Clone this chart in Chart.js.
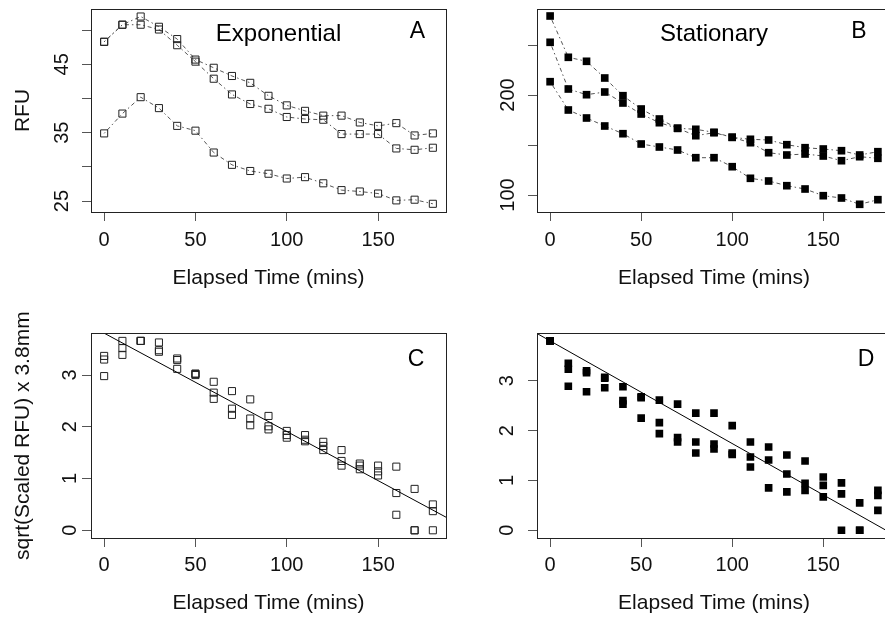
<!DOCTYPE html>
<html>
<head>
<meta charset="utf-8">
<script src="https://cdn.jsdelivr.net/npm/chart.js@4.4.1/dist/chart.umd.min.js"></script>
<style>
  html, body { margin:0; padding:0; background:#fff; overflow:hidden; }
  #wrap { position:relative; width:885px; height:617px; overflow:hidden; background:#fff; }
  canvas { position:absolute; }
</style>
</head>
<body>
<div id="wrap">
  <canvas id="pA" width="470" height="300" style="left:0;top:0"></canvas>
  <canvas id="pB" width="450" height="300" style="left:450px;top:0"></canvas>
  <canvas id="pC" width="470" height="317" style="left:0;top:300px"></canvas>
  <canvas id="pD" width="450" height="317" style="left:450px;top:300px"></canvas>
</div>
<script>
const FONT = "'Liberation Sans', Arial, Helvetica, sans-serif";

// sampling times (mins)
const TIMES = [0,10,20,30,40,50,60,70,80,90,100,110,120,130,140,150,160,170,180];

// A: exponential phase, RFU
const EXP_HIGH = [48.3,50.8,52.0,50.5,48.7,45.7,44.5,43.3,42.3,40.4,39.0,38.2,37.5,37.5,36.5,36.0,36.4,34.6,34.9];
const EXP_MID  = [48.3,50.8,50.8,50.1,47.8,45.4,42.9,40.6,39.2,38.5,37.3,37.0,36.9,34.8,34.8,34.8,32.7,32.5,32.8];
const EXP_LOW  = [34.9,37.8,40.2,38.6,36.0,35.3,32.1,30.3,29.4,29.0,28.3,28.5,27.6,26.6,26.4,26.1,25.1,25.2,24.6];

// B: stationary phase, RFU
const STAT_TOP = [279,237.7,233.7,217,199.3,186,176,166.7,165.7,162.7,157.7,155.7,155,150.3,147.3,146,144.3,140,143.3];
const STAT_MID = [252.7,206,200.3,203,192,181,172.3,166.7,159.3,162.3,157.7,152.3,142.3,140,141,139,134.3,138.3,136.7];
const STAT_LOW = [213.3,185,177,169,161.3,151,148,145,137.3,137.3,128.3,116.7,114,109.3,106,99.3,97,90.7,95.3];

// C: sqrt(scaled RFU) x 3.8mm, exponential
const C_1 = [3.37,3.66,3.66,3.63,3.32,3.03,2.87,2.69,2.53,2.21,1.92,1.84,1.71,1.55,1.29,1.25,1.23,0.80,0.50];
const C_2 = [3.30,3.52,3.66,3.48,3.29,3.00,2.66,2.35,2.16,2.01,1.84,1.75,1.63,1.34,1.25,1.14,0.72,0.00,0.37];
const C_3 = [2.98,3.39,3.66,3.45,3.12,3.02,2.54,2.23,2.03,1.95,1.79,1.72,1.55,1.25,1.18,1.06,0.30,0.00,0.00];
const C_FIT = { intercept: 3.81, slope: -0.0190 };

// D: sqrt(scaled RFU) x 3.8mm, stationary
const D_1 = [3.80,3.35,3.20,3.07,2.88,2.68,2.61,2.53,2.35,2.35,2.10,1.77,1.67,1.51,1.39,1.07,0.95,0.55,0.80];
const D_2 = [3.80,3.23,3.16,3.05,2.60,2.66,2.16,1.86,1.77,1.73,1.55,1.47,1.41,1.13,0.94,0.90,0.73,0.00,0.70];
const D_3 = [3.80,2.89,2.78,2.86,2.53,2.25,1.94,1.77,1.55,1.63,1.52,1.27,0.85,0.77,0.80,0.67,0.00,0.00,0.40];
const D_FIT = { intercept: 3.80, slope: -0.0206 };

// axis ticks / labels
const X_TICKS = [0,50,100,150];
const X_LABELS = ["0","50","100","150"];
const X_MIN = -7.2, X_MAX = 187.2;
const A_TICKS = [25,30,35,40,45,50];
const A_LABELS = ["25","","35","","45",""];
const B_TICKS = [100,150,200,250];
const B_LABELS = ["100","","200",""];
const CD_TICKS = [0,1,2,3];
const CD_LABELS = ["0","1","2","3"];

const pts = (ys) => TIMES.map((t, i) => ({ x: t, y: ys[i] }));
const fitLine = (f) => [X_MIN, X_MAX].map(x => ({ x, y: f.intercept + f.slope * x }));

function marker(filled) {
  return {
    pointStyle: "rect",
    pointRadius: filled ? 5.4 : 5,
    pointBorderWidth: filled ? 0 : 1,
    pointBorderColor: "#222",
    pointBackgroundColor: filled ? "#000" : "rgba(0,0,0,0)"
  };
}
function connected(ys, filled) {
  return Object.assign({
    data: pts(ys), showLine: true,
    borderColor: "#555", borderWidth: 1, borderDash: [1.5,3,4,3]
  }, marker(filled));
}
function scatter(ys, filled) {
  return Object.assign({ data: pts(ys), showLine: false }, marker(filled));
}
function fitSet(f) {
  return { data: fitLine(f), showLine: true, borderColor: "#000", borderWidth: 1, pointRadius: 0 };
}

// R-like box, tick labels and panel notes
const rStyle = {
  id: "rStyle",
  afterDraw(chart, args, o) {
    const { ctx, chartArea: a, scales } = chart;
    ctx.save();
    ctx.strokeStyle = "#222";
    ctx.lineWidth = 1;
    ctx.strokeRect(Math.round(a.left) + 0.5, Math.round(a.top) + 0.5,
                   Math.round(a.right - a.left), Math.round(a.bottom - a.top));
    ctx.fillStyle = "#111";
    ctx.textAlign = "center";
    ctx.textBaseline = "middle";
    ctx.font = "20px " + FONT;
    o.xTicks.forEach((v, i) => {
      if (!o.xLabels[i]) return;
      ctx.fillText(o.xLabels[i], scales.x.getPixelForValue(v), a.bottom + o.xGap);
    });
    o.yTicks.forEach((v, i) => {
      if (!o.yLabels[i]) return;
      ctx.save();
      ctx.translate(a.left - o.yGap, scales.y.getPixelForValue(v));
      ctx.rotate(-Math.PI / 2);
      ctx.fillText(o.yLabels[i], 0, 0);
      ctx.restore();
    });
    ctx.fillStyle = "#000";
    o.notes.forEach(n => {
      ctx.font = n.size + "px " + FONT;
      ctx.fillText(n.text, n.x, n.y);
    });
    ctx.restore();
  }
};

function makePanel(id, p) {
  return new Chart(document.getElementById(id), {
    type: "scatter",
    data: { datasets: p.datasets },
    options: {
      responsive: false,
      animation: false,
      devicePixelRatio: 1,
      layout: { padding: p.padding },
      plugins: {
        legend: { display: false },
        tooltip: { enabled: false },
        rStyle: { xTicks: X_TICKS, xLabels: X_LABELS, yTicks: p.yTicks, yLabels: p.yLabels,
                  xGap: p.xGap, yGap: p.yGap, notes: p.notes }
      },
      scales: {
        x: {
          type: "linear", min: X_MIN, max: X_MAX,
          afterBuildTicks: s => { s.ticks = X_TICKS.map(v => ({ value: v })); },
          afterFit: s => { s.height = p.xAxisH; },
          ticks: { display: false },
          grid: { drawOnChartArea: false, drawTicks: true, tickLength: 9, color: "#555", lineWidth: 1 },
          border: { display: false },
          title: { display: true, text: "Elapsed Time (mins)", color: "#111",
                   font: { size: 21, family: FONT }, padding: { top: 0, bottom: p.xTitlePad } }
        },
        y: {
          type: "linear", min: p.yMin, max: p.yMax,
          afterBuildTicks: s => { s.ticks = p.yTicks.map(v => ({ value: v })); },
          afterFit: s => { s.width = p.yAxisW; },
          ticks: { display: false },
          grid: { drawOnChartArea: false, drawTicks: true, tickLength: 9, color: "#555", lineWidth: 1 },
          border: { display: false },
          title: { display: !!p.yTitle, text: p.yTitle || "", color: "#111",
                   font: { size: 21, family: FONT }, padding: { top: 11, bottom: 0 } }
        }
      }
    },
    plugins: [rStyle]
  });
}

makePanel("pA", {
  datasets: [connected(EXP_HIGH, false), connected(EXP_MID, false), connected(EXP_LOW, false)],
  padding: { left: 0, top: 9, right: 24, bottom: 0 },
  yAxisW: 91, xAxisH: 88, xTitlePad: 9.4,
  yMin: 23.4, yMax: 53.1, yTicks: A_TICKS, yLabels: A_LABELS,
  xGap: 28, yGap: 28.5, yTitle: "RFU",
  notes: [{ text: "Exponential", x: 278.5, y: 34, size: 24 }, { text: "A", x: 417.5, y: 32, size: 23 }]
});

makePanel("pB", {
  datasets: [connected(STAT_TOP, true), connected(STAT_MID, true), connected(STAT_LOW, true)],
  padding: { left: 0, top: 9, right: 9, bottom: 0 },
  yAxisW: 87, xAxisH: 88, xTitlePad: 9.4,
  yMin: 83, yMax: 286, yTicks: B_TICKS, yLabels: B_LABELS,
  xGap: 28, yGap: 28.4,
  notes: [{ text: "Stationary", x: 264, y: 34, size: 24 }, { text: "B", x: 409, y: 32, size: 23 }]
});

makePanel("pC", {
  datasets: [fitSet(C_FIT), scatter(C_1, false), scatter(C_2, false), scatter(C_3, false)],
  padding: { left: 0, top: 33.3, right: 24, bottom: 0 },
  yAxisW: 91, xAxisH: 79, xTitlePad: 0.9,
  yMin: -0.149, yMax: 3.807, yTicks: CD_TICKS, yLabels: CD_LABELS,
  xGap: 27, yGap: 20.2, yTitle: "sqrt(Scaled RFU) x 3.8mm",
  notes: [{ text: "C", x: 416, y: 60, size: 23 }]
});

makePanel("pD", {
  datasets: [fitSet(D_FIT), scatter(D_1, true), scatter(D_2, true), scatter(D_3, true)],
  padding: { left: 0, top: 33.3, right: 9, bottom: 0 },
  yAxisW: 87, xAxisH: 79, xTitlePad: 0.9,
  yMin: -0.155, yMax: 3.952, yTicks: CD_TICKS, yLabels: CD_LABELS,
  xGap: 27, yGap: 30,
  notes: [{ text: "D", x: 416, y: 60, size: 23 }]
});
</script>
</body>
</html>
